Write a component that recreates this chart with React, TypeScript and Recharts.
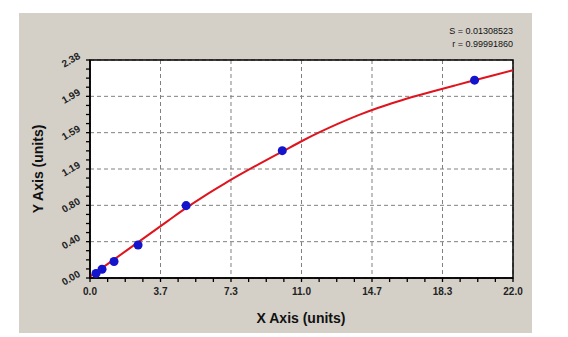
import { ComposedChart, Line, Scatter, XAxis, YAxis, CartesianGrid, ReferenceArea, Label } from 'recharts';

// standards (concentration vs. measured value)
const stdConc = [0.3125, 0.625, 1.25, 2.5, 5, 10, 20];
const stdValue = [0.05, 0.095, 0.18, 0.36, 0.79, 1.39, 2.16];

// fitted curve
const curveX = [0, 1, 2, 3, 4, 5, 6, 7, 8, 9, 10, 11, 12, 13, 14, 15, 16, 17, 18, 19, 20, 21, 22];
const curveY = [0.015, 0.165, 0.315, 0.465, 0.615, 0.765, 0.903, 1.031, 1.152, 1.268, 1.38, 1.493, 1.597, 1.693, 1.781, 1.859, 1.927, 1.989, 2.047, 2.103, 2.158, 2.213, 2.268];

const xMajor = [0, 3.667, 7.333, 11, 14.667, 18.333, 22];
const xLabels = ['0.0', '3.7', '7.3', '11.0', '14.7', '18.3', '22.0'];
const xMinor = [0.917, 1.833, 2.75, 4.583, 5.5, 6.417, 8.25, 9.167, 10.083, 11.917, 12.833, 13.75, 15.583, 16.5, 17.417, 19.25, 20.167, 21.083];

const yMajor = [0, 0.3967, 0.7933, 1.19, 1.5867, 1.9833, 2.38];
const yLabels = ['0.00', '0.40', '0.80', '1.19', '1.59', '1.99', '2.38'];
const yMinor = [0.099, 0.198, 0.298, 0.496, 0.595, 0.694, 0.893, 0.992, 1.091, 1.289, 1.388, 1.488, 1.686, 1.785, 1.884, 2.083, 2.182, 2.281];

const fitStats = ['S = 0.01308523', 'r = 0.99991860'];

const points = stdConc.map((x, i) => ({ x, y: stdValue[i] }));
const curve = curveX.map((x, i) => ({ x, y: curveY[i] }));

const font = '"Liberation Sans", Arial, sans-serif';

// tick lines come from the axis itself, these only put labels on the major ticks
const XTick = (props: any) => {
    const { x, y, payload } = props;
    const idx = xMajor.indexOf(payload.value);
    if (idx < 0) return <g />;
    return <text x={x} y={y + 13} textAnchor="middle" fontSize={10} fontWeight="bold" fill="#222" fontFamily={font}>{xLabels[idx]}</text>
}

const YTick = (props: any) => {
    const { x, y, payload } = props;
    const idx = yMajor.indexOf(payload.value);
    if (idx < 0) return <g />;
    return <text transform={`translate(${x - 5},${y - 2}) rotate(-30)`} textAnchor="end" fontSize={10} fontWeight="bold" fill="#222" fontFamily={font}>{yLabels[idx]}</text>
}

export default function App() {
    return <div style={{ position: 'absolute', left: 0, top: 0, width: 568, height: 337, background: '#fff' }}>
        <div style={{ position: 'absolute', left: 19, top: 13, width: 513, height: 320, background: '#d4d0c8' }} />
        <div style={{ position: 'absolute', right: 55, top: 25, textAlign: 'right', fontFamily: font, fontSize: 9, lineHeight: '12.5px', color: '#111' }}>
            {fitStats.map(s => <div key={s}>{s}</div>)}
        </div>
        <div style={{ position: 'absolute', left: 0, top: 0 }}>
            <ComposedChart
                width={568}
                height={337}
                margin={{ top: 60, right: 55, left: 30, bottom: 19 }}
            >
                <CartesianGrid fill="#fff" stroke="#808080" strokeDasharray="4 3" verticalValues={xMajor} horizontalValues={yMajor} />
                <XAxis
                    type="number"
                    dataKey="x"
                    domain={[0, 22]}
                    ticks={[...xMajor, ...xMinor].sort((a, b) => a - b)}
                    interval={0}
                    tickSize={4}
                    tickMargin={0}
                    tickLine={{ stroke: '#000', strokeWidth: 1.3 }}
                    tick={<XTick />}
                    axisLine={{ stroke: '#000', strokeWidth: 1.5 }}
                    height={40}
                >
                    <Label content={() => <text x={301} y={323} textAnchor="middle" fontSize={14} fontWeight="bold" fill="#111" fontFamily={font}>X Axis (units)</text>} />
                </XAxis>
                <YAxis
                    type="number"
                    domain={[0, 2.38]}
                    ticks={[...yMajor, ...yMinor].sort((a, b) => a - b)}
                    interval={0}
                    tickSize={4}
                    tickMargin={0}
                    tickLine={{ stroke: '#000', strokeWidth: 1.3 }}
                    tick={<YTick />}
                    axisLine={{ stroke: '#000', strokeWidth: 1.5 }}
                    width={60}
                >
                    <Label content={() => <text x={43} y={169} transform="rotate(-90 43 169)" textAnchor="middle" fontSize={14} fontWeight="bold" fill="#111" fontFamily={font}>Y Axis (units)</text>} />
                </YAxis>
                <ReferenceArea x1={0} x2={22} y1={0} y2={2.38} fill="none" fillOpacity={0} stroke="#000" strokeWidth={1.5} />
                <Scatter data={points} dataKey="y" fill="#1414cc" isAnimationActive={false} />
                <Line data={curve} dataKey="y" type="monotone" stroke="#e0141e" strokeWidth={2} dot={false} activeDot={false} isAnimationActive={false} />
            </ComposedChart>
        </div>
    </div>
}
